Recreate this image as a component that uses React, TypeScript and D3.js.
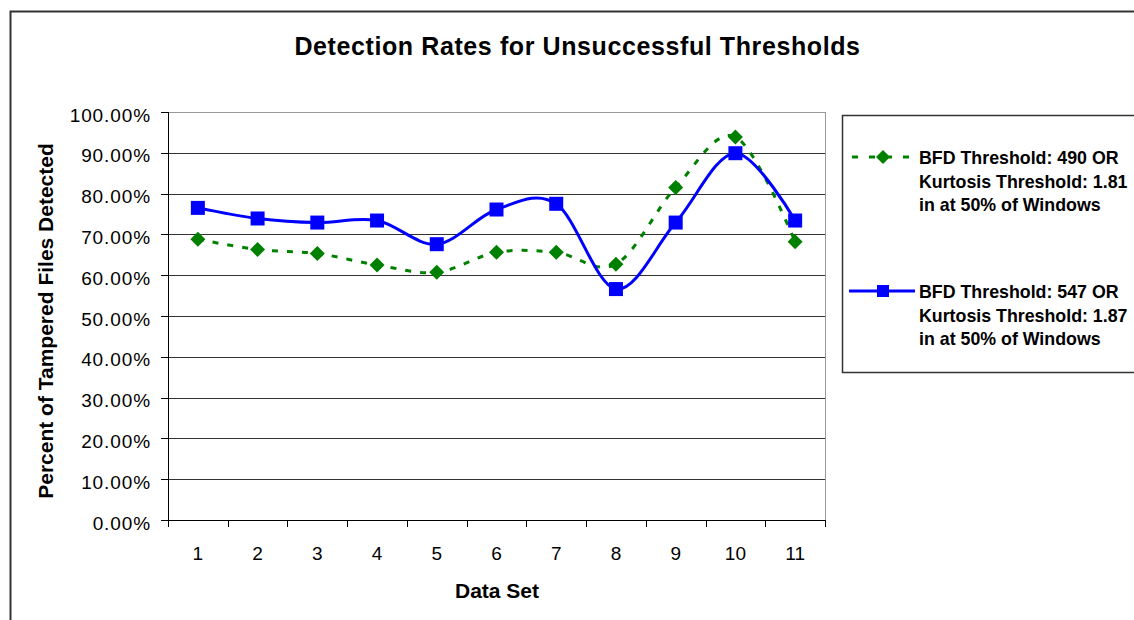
import React from "react";
import * as d3 from "d3";

const categories = ["1", "2", "3", "4", "5", "6", "7", "8", "9", "10", "11"];
const seriesGreen = [0.688, 0.663, 0.653, 0.625, 0.607, 0.656, 0.656, 0.627, 0.815, 0.939, 0.682];
const seriesBlue = [0.765, 0.739, 0.729, 0.734, 0.676, 0.761, 0.775, 0.566, 0.729, 0.899, 0.734];
const yTicks = [0, 0.1, 0.2, 0.3, 0.4, 0.5, 0.6, 0.7, 0.8, 0.9, 1.0];
const legendGreen = ["BFD Threshold: 490 OR", "Kurtosis Threshold: 1.81", "in at 50% of Windows"];
const legendBlue = ["BFD Threshold: 547 OR", "Kurtosis Threshold: 1.87", "in at 50% of Windows"];
const title = "Detection Rates for Unsuccessful Thresholds";
const yTitle = "Percent of Tampered Files Detected";
const xTitle = "Data Set";

const W = 1134;
const H = 620;
const plot = { left: 168, top: 112, right: 825, bottom: 520 };
const font = "'Liberation Sans', Arial, sans-serif";
const GREEN = "#008000";
const BLUE = "#0000ff";

export default function App() {
  const x = d3.scaleBand<string>().domain(categories).range([plot.left, plot.right]).padding(0);
  const y = d3.scaleLinear().domain([0, 1]).range([plot.bottom, plot.top]);
  const cx = (c: string) => (x(c) as number) + x.bandwidth() / 2;

  const line = d3
    .line<number>()
    .x((_, i) => cx(categories[i]))
    .y((d) => y(d))
    .curve(d3.curveCardinal.tension(0));

  const diamond = (px: number, py: number, r: number) =>
    `M${px},${py - r}L${px + r},${py}L${px},${py + r}L${px - r},${py}Z`;

  const fmt = d3.format(".2%");

  const legX1 = 852;
  const legX2 = 915;
  const legMid = 883;
  const legTextX = 919;
  const legGreenY = 157;
  const legBlueY = 291;
  const lineGap = 23.5;

  return (
    <svg
      width={W}
      height={H}
      style={{ position: "absolute", left: 0, top: 0, background: "#fff" }}
      fontFamily={font}
    >
      <rect x={0} y={0} width={W} height={H} fill="#fff" />
      {/* outer chart border */}
      <rect x={10.5} y={11.5} width={W + 50} height={H + 50} fill="none" stroke="#333" strokeWidth={2} />

      {/* title */}
      <text x={577.5} y={55} textAnchor="middle" fontSize={25} fontWeight="bold" letterSpacing={0.6} fill="#000">
        {title}
      </text>

      {/* gridlines */}
      {yTicks.slice(1).map((t) => (
        <line
          key={"g" + t}
          x1={plot.left}
          x2={plot.right}
          y1={Math.round(y(t)) + 0.5}
          y2={Math.round(y(t)) + 0.5}
          stroke={t === 1 ? "#999" : "#333"}
          strokeWidth={1}
        />
      ))}
      {/* right plot border */}
      <line x1={plot.right + 0.5} x2={plot.right + 0.5} y1={plot.top} y2={plot.bottom} stroke="#999" strokeWidth={1} />

      {/* y axis */}
      <line x1={plot.left + 0.5} x2={plot.left + 0.5} y1={plot.top} y2={plot.bottom} stroke="#000" strokeWidth={1} />
      {yTicks.map((t) => (
        <g key={"yt" + t}>
          <line
            x1={plot.left - 7}
            x2={plot.left}
            y1={Math.round(y(t)) + 0.5}
            y2={Math.round(y(t)) + 0.5}
            stroke="#000"
          />
          <text x={151} y={y(t) + 9.5} textAnchor="end" fontSize={19} letterSpacing={0.9} fill="#000">
            {fmt(t)}
          </text>
        </g>
      ))}

      {/* x axis */}
      <line x1={plot.left} x2={plot.right + 1} y1={plot.bottom + 0.5} y2={plot.bottom + 0.5} stroke="#000" strokeWidth={1} />
      {categories.map((c) => (
        <line
          key={"xt" + c}
          x1={Math.round(x(c) as number) + 0.5}
          x2={Math.round(x(c) as number) + 0.5}
          y1={plot.bottom}
          y2={plot.bottom + 7}
          stroke="#000"
        />
      ))}
      <line
        x1={plot.right + 0.5}
        x2={plot.right + 0.5}
        y1={plot.bottom}
        y2={plot.bottom + 7}
        stroke="#000"
      />
      {categories.map((c) => (
        <text key={"xl" + c} x={cx(c)} y={560} textAnchor="middle" fontSize={19} fill="#000">
          {c}
        </text>
      ))}

      {/* axis titles */}
      <text
        transform={`translate(53,${321}) rotate(-90)`}
        textAnchor="middle"
        fontSize={21}
        fontWeight="bold"
        fill="#000"
      >
        {yTitle}
      </text>
      <text x={497} y={598} textAnchor="middle" fontSize={21} fontWeight="bold" fill="#000">
        {xTitle}
      </text>

      {/* series */}
      <path d={line(seriesGreen) || ""} fill="none" stroke={GREEN} strokeWidth={3} strokeDasharray="6,9" />
      <path d={line(seriesBlue) || ""} fill="none" stroke={BLUE} strokeWidth={3} />
      {seriesGreen.map((v, i) => (
        <path key={"gm" + i} d={diamond(cx(categories[i]), y(v), 7.5)} fill={GREEN} />
      ))}
      {seriesBlue.map((v, i) => (
        <rect
          key={"bm" + i}
          x={cx(categories[i]) - 7}
          y={y(v) - 7}
          width={14}
          height={14}
          fill={BLUE}
        />
      ))}

      {/* legend */}
      <rect x={842.5} y={115.5} width={400} height={257} fill="#fff" stroke="#333" strokeWidth={1.5} />
      <line x1={legX1} x2={legX2} y1={legGreenY} y2={legGreenY} stroke={GREEN} strokeWidth={3} strokeDasharray="6,11" />
      <path d={diamond(legMid, legGreenY, 7)} fill={GREEN} />
      {legendGreen.map((s, i) => (
        <text key={"lg" + i} x={legTextX} y={legGreenY + 7 + i * lineGap} fontSize={17.8} fontWeight="bold" fill="#000">
          {s}
        </text>
      ))}
      <line x1={legX1 - 3} x2={legX2} y1={legBlueY} y2={legBlueY} stroke={BLUE} strokeWidth={3} />
      <rect x={legMid - 6} y={legBlueY - 6} width={12} height={12} fill={BLUE} />
      {legendBlue.map((s, i) => (
        <text key={"lb" + i} x={legTextX} y={legBlueY + 7 + i * lineGap} fontSize={17.8} fontWeight="bold" fill="#000">
          {s}
        </text>
      ))}
    </svg>
  );
}
